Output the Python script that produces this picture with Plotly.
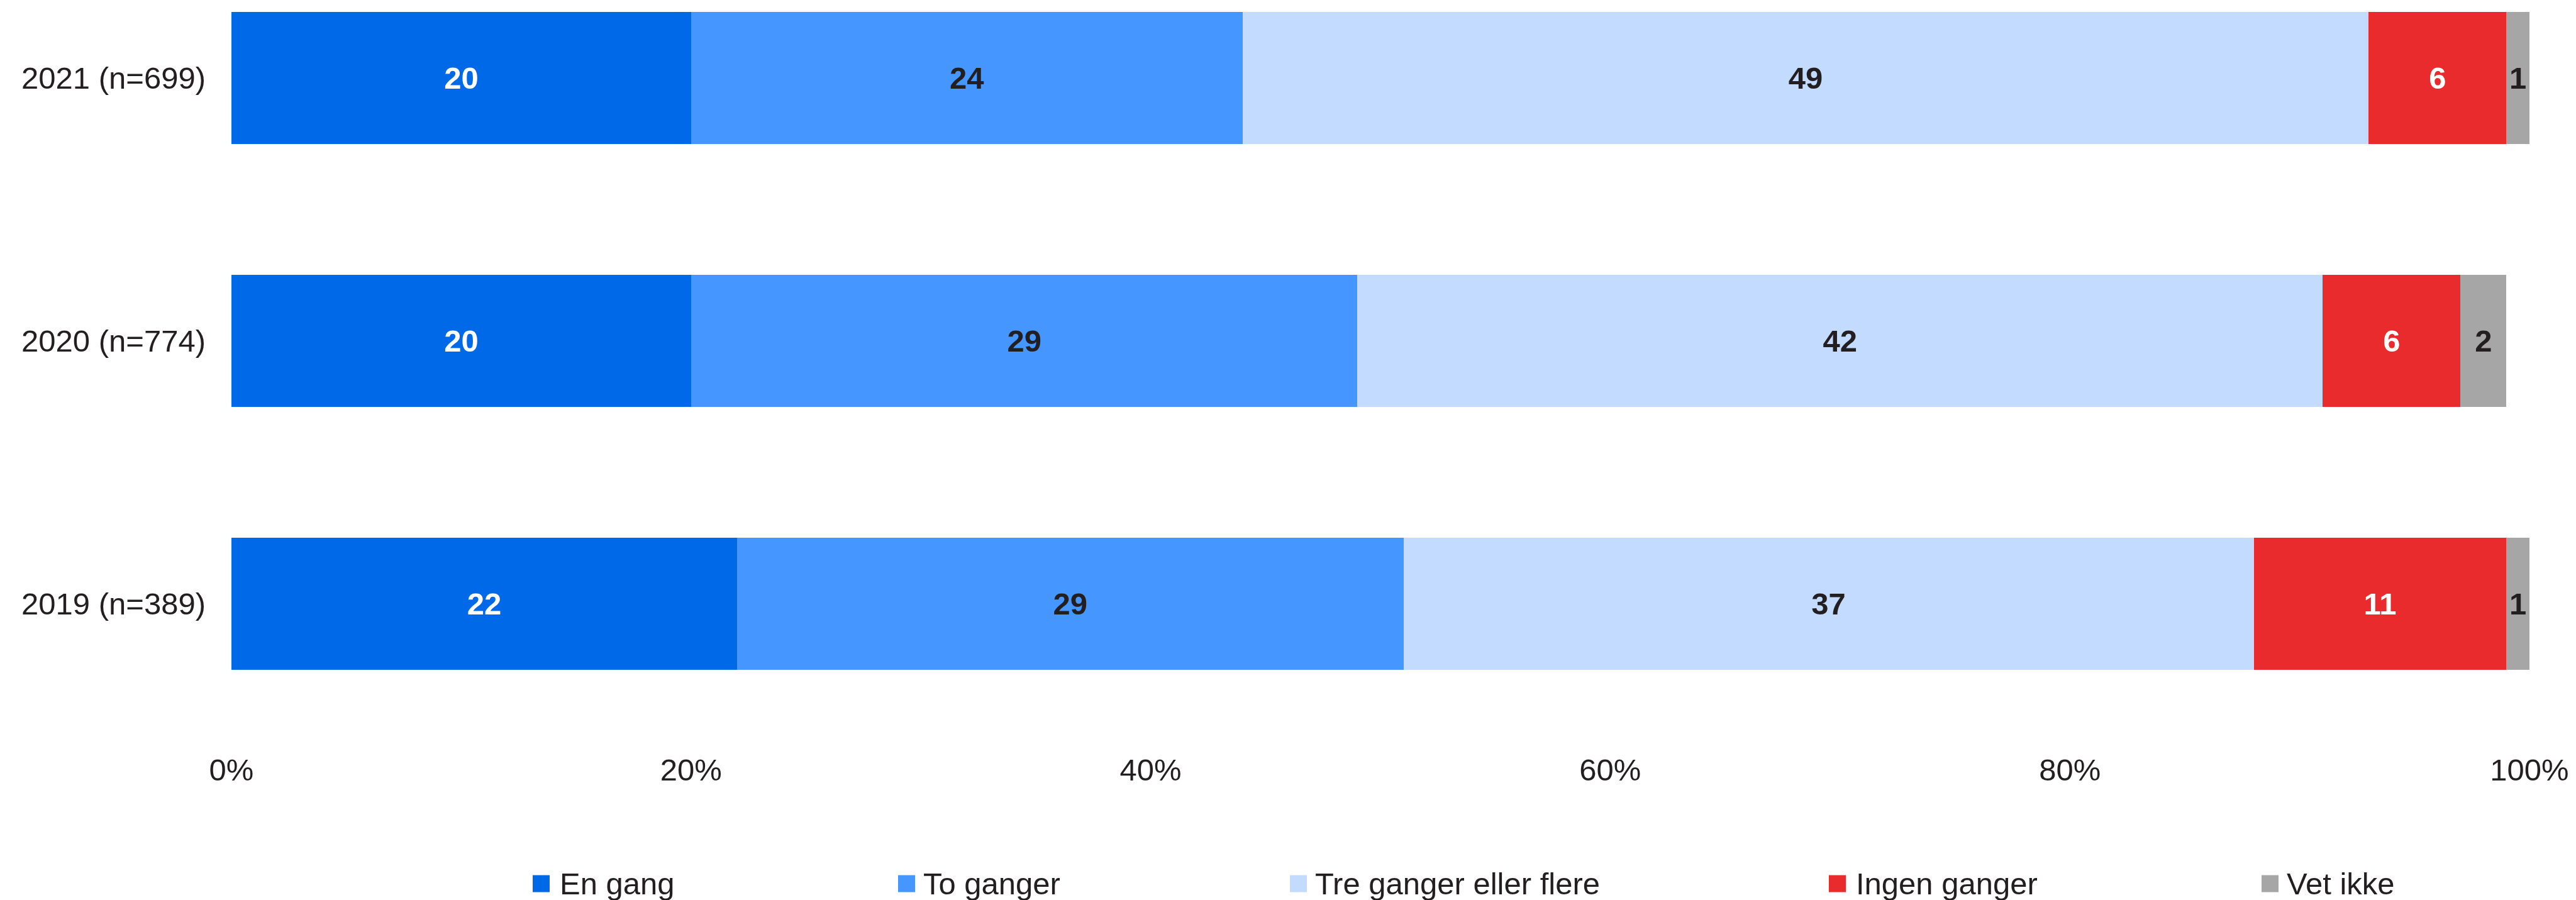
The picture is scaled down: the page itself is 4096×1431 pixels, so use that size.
import plotly.graph_objects as go

# Survey results per year (percent of respondents)
years = ["2019 (n=389)", "2020 (n=774)", "2021 (n=699)"]
series_names = ["En gang", "To ganger", "Tre ganger eller flere", "Ingen ganger", "Vet ikke"]
en_gang = [22, 20, 20]
to_ganger = [29, 29, 24]
tre_eller_flere = [37, 42, 49]
ingen_ganger = [11, 6, 6]
vet_ikke = [1, 2, 1]
x_ticks = [0, 20, 40, 60, 80, 100]
x_tick_labels = ["0%", "20%", "40%", "60%", "80%", "100%"]

series_values = [en_gang, to_ganger, tre_eller_flere, ingen_ganger, vet_ikke]
colors = ["#0069E8", "#4596FF", "#C3DBFF", "#E92B2E", "#A6A6A6"]
DARK = "#231F20"
label_colors = ["#FFFFFF", DARK, DARK, "#FFFFFF", DARK]

W, H = 4096, 1431
FONT = "Liberation Sans, Arial, sans-serif"
FS = 49

# plot area in pixels
PL, PR, PT, PB = 368, 4022, 0, 1169

fig = go.Figure()
for name, vals, col, tcol in zip(series_names, series_values, colors, label_colors):
    fig.add_trace(go.Bar(
        y=years, x=vals, name=name, orientation="h",
        marker=dict(color=col, line=dict(width=0)),
        text=[str(v) for v in vals], textposition="inside",
        insidetextanchor="middle", textangle=0,
        textfont=dict(family=FONT, size=FS, color=tcol, weight="bold"),
        showlegend=False, hoverinfo="skip",
    ))

# legend drawn as squares + labels beneath the axis
legend_marker_x = [847, 1428, 2051, 2908, 3596]
legend_text_x = [888, 1466, 2089, 2949, 3634]
legend_cy = 1405
sq = 27

def px_x(p):
    return (p - PL) / (PR - PL)

def px_y(p):
    return (PB - p) / (PB - PT)

shapes = []
annotations = []
for name, col, mx, tx in zip(series_names, colors, legend_marker_x, legend_text_x):
    shapes.append(dict(
        type="rect", xref="paper", yref="paper",
        x0=px_x(mx), x1=px_x(mx + sq),
        y0=px_y(legend_cy + sq / 2), y1=px_y(legend_cy - sq / 2),
        fillcolor=col, line=dict(width=0),
    ))
    annotations.append(dict(
        xref="paper", yref="paper", x=px_x(tx), y=px_y(legend_cy),
        xanchor="left", yanchor="middle", text=name, showarrow=False,
        font=dict(family=FONT, size=FS, color=DARK),
    ))

fig.update_layout(
    width=W, height=H,
    barmode="stack", bargap=0.497,
    margin=dict(l=PL, r=W - PR, t=PT, b=H - PB, pad=0),
    paper_bgcolor="white", plot_bgcolor="white",
    font=dict(family=FONT, size=FS, color=DARK),
    uniformtext=dict(minsize=FS, mode="show"),
    shapes=shapes, annotations=annotations,
    xaxis=dict(
        range=[0, 100], tickmode="array", tickvals=x_ticks, ticktext=x_tick_labels,
        showgrid=False, zeroline=False, showline=False, ticks="",
        ticklabelstandoff=22, tickfont=dict(family=FONT, size=FS, color=DARK),
    ),
    yaxis=dict(
        type="category", range=[-0.5, 2.296],
        showgrid=False, zeroline=False, showline=False, ticks="",
        ticklabelstandoff=40, tickfont=dict(family=FONT, size=FS, color=DARK),
    ),
)

fig.write_html("out.html")
